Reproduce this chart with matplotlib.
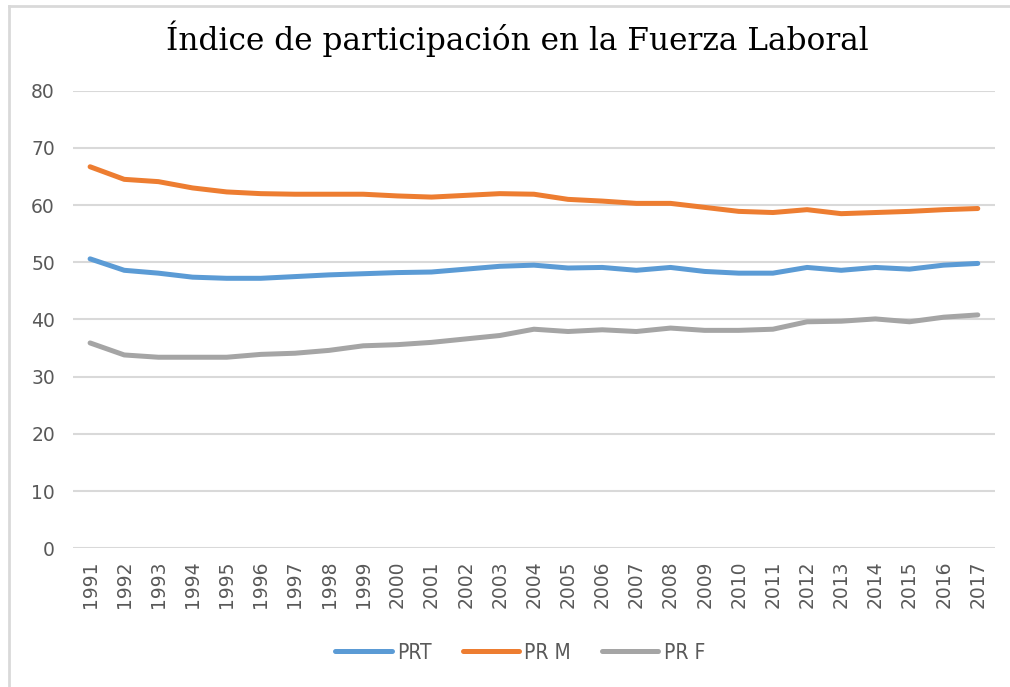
import numpy as np
import matplotlib.pyplot as plt
from matplotlib import font_manager
from matplotlib.lines import Line2D

years = [str(y) for y in range(1991, 2018)]

prt = [50.6, 48.6, 48.1, 47.4, 47.2, 47.2, 47.5, 47.8, 48.0, 48.2, 48.3, 48.8, 49.3,
       49.5, 49.0, 49.1, 48.6, 49.1, 48.4, 48.1, 48.1, 49.1, 48.6, 49.1, 48.8, 49.5, 49.8]
pr_m = [66.7, 64.5, 64.1, 63.0, 62.3, 62.0, 61.9, 61.9, 61.9, 61.6, 61.4, 61.7, 62.0,
        61.9, 61.0, 60.7, 60.3, 60.3, 59.6, 58.9, 58.7, 59.2, 58.5, 58.7, 58.9, 59.2, 59.4]
pr_f = [35.9, 33.8, 33.4, 33.4, 33.4, 33.9, 34.1, 34.6, 35.4, 35.6, 36.0, 36.6, 37.2,
        38.3, 37.9, 38.2, 37.9, 38.5, 38.1, 38.1, 38.3, 39.6, 39.7, 40.1, 39.6, 40.4, 40.8]

series = [("PRT", prt, "#5B9BD5"), ("PR M", pr_m, "#ED7D31"), ("PR F", pr_f, "#A5A5A5")]

# look for a narrow, regular-weight sans for the legend
narrow = None
for f in font_manager.fontManager.ttflist:
    is_narrow = f.stretch in ("condensed", "semi-condensed", "extra-condensed") \
        or "Narrow" in f.name or "Condensed" in f.name
    if is_narrow and f.weight in (400, "normal", "regular") and f.style == "normal" \
            and "Mono" not in f.name and "Serif" not in f.name:
        narrow = f
        break
if narrow is not None:
    leg_prop = font_manager.FontProperties(fname=narrow.fname, size=15)
else:
    leg_prop = font_manager.FontProperties(family="DejaVu Sans", size=14)

fig = plt.figure(figsize=(10.10, 6.87), dpi=100)
ax = fig.add_axes([0.0723, 0.2019, 0.9127, 0.6661])

# light frame (left and top edges visible in the reference)
fig.lines.append(Line2D([9 / 1010, 9 / 1010], [0, 1 - 6 / 687], transform=fig.transFigure,
                        color="#D9D9D9", linewidth=2))
fig.lines.append(Line2D([9 / 1010, 1], [1 - 6 / 687, 1 - 6 / 687], transform=fig.transFigure,
                        color="#D9D9D9", linewidth=2))

x = np.arange(len(years))
for name, vals, col in series:
    ax.plot(x, vals, color=col, linewidth=3.6, solid_capstyle="round",
            solid_joinstyle="round", label=name)

ax.set_xlim(-0.5, len(years) - 0.5)
ax.set_ylim(0, 80)
ax.set_yticks(range(0, 81, 10))
ax.set_xticks(x)
ax.set_xticklabels(years, rotation=90)
ax.grid(axis="y", color="#D9D9D9", linewidth=1.5)
ax.set_axisbelow(True)
for s in ax.spines.values():
    s.set_visible(False)
ax.tick_params(axis="both", length=0, labelcolor="#595959", labelsize=13.5)
ax.tick_params(axis="y", pad=13)
ax.tick_params(axis="x", pad=9)

fig.text(0.512, 0.943, "Índice de participación en la Fuerza Laboral",
         ha="center", va="center", fontsize=22.5, family="DejaVu Serif",
         color="#000000")

leg = fig.legend(loc="center", bbox_to_anchor=(0.515, 0.05), ncol=3, frameon=False,
                 handlelength=2.7, columnspacing=1.5, handletextpad=0.25, prop=leg_prop)
for t in leg.get_texts():
    t.set_color("#595959")

fig.savefig("out.png", dpi=100)
